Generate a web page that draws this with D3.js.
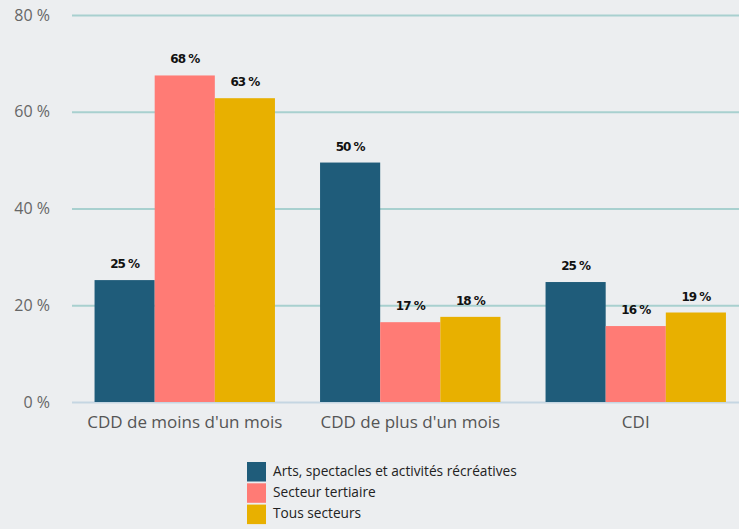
<!DOCTYPE html>
<html>
<head>
<meta charset="utf-8">
<script src="https://cdn.jsdelivr.net/npm/d3@7"></script>
<style>
  body { margin: 0; background: #eceef0; }
  svg { display: block; font-family: "Open Sans", sans-serif; }
</style>
</head>
<body>
<div id="chart"></div>
<script>
// Data
const categories = ["CDD de moins d'un mois", "CDD de plus d'un mois", "CDI"];
const seriesNames = ["Arts, spectacles et activités récréatives", "Secteur tertiaire", "Tous secteurs"];
const artsValues = [25.2, 49.5, 24.8];
const tertiaireValues = [67.5, 16.5, 15.7];
const tousValues = [62.8, 17.6, 18.5];
const yTicks = [0, 20, 40, 60, 80];

const colors = ["#1f5c7a", "#ff7b75", "#e8b000"];

const width = 739, height = 529;
const plot = { left: 72, right: 748.5, top: 15, bottom: 402 };

const svg = d3.select("#chart")
  .append("svg")
  .attr("width", width)
  .attr("height", height);

svg.append("rect")
  .attr("width", width)
  .attr("height", height)
  .attr("fill", "#eceef0");

// Scales
const x0 = d3.scaleBand()
  .domain(categories)
  .range([plot.left, plot.right])
  .paddingInner(0.2)
  .paddingOuter(0.1);

const x1 = d3.scaleBand()
  .domain(seriesNames)
  .range([0, x0.bandwidth()]);

const y = d3.scaleLinear()
  .domain([0, 80])
  .range([plot.bottom, plot.top]);

const color = d3.scaleOrdinal().domain(seriesNames).range(colors);

// Gridlines + y labels
const yAxis = d3.axisLeft(y)
  .tickValues(yTicks)
  .tickSize(-(width - plot.left))
  .tickPadding(22)
  .tickFormat(d => d + " %");

const gy = svg.append("g")
  .attr("transform", `translate(${plot.left},0)`)
  .call(yAxis);
gy.select(".domain").remove();
gy.selectAll(".tick line")
  .attr("stroke", d => d === 0 ? "#c5d6e2" : "#a8d0cf")
  .attr("stroke-width", 2);
gy.selectAll(".tick text")
  .attr("fill", "#666")
  .attr("font-size", 16)
  .attr("font-family", "Open Sans, sans-serif");

// Bars
const rows = categories.map((c, i) => ({
  category: c,
  values: [artsValues[i], tertiaireValues[i], tousValues[i]]
    .map((v, j) => ({ series: seriesNames[j], value: v }))
}));

const group = svg.selectAll(".group")
  .data(rows)
  .enter()
  .append("g")
  .attr("class", "group")
  .attr("transform", d => `translate(${x0(d.category)},0)`);

group.selectAll("rect")
  .data(d => d.values)
  .enter()
  .append("rect")
  .attr("x", d => x1(d.series))
  .attr("y", d => y(d.value))
  .attr("width", x1.bandwidth())
  .attr("height", d => y(0) - y(d.value))
  .attr("fill", d => color(d.series));

group.selectAll(".val")
  .data(d => d.values)
  .enter()
  .append("text")
  .attr("class", "val")
  .attr("x", d => x1(d.series) + x1.bandwidth() / 2)
  .attr("y", d => y(d.value) - 12)
  .attr("text-anchor", "middle")
  .attr("font-family", "DejaVu Sans, sans-serif")
  .attr("font-weight", "bold")
  .attr("font-size", 12)
  .attr("letter-spacing", -1)
  .attr("fill", "#111")
  .text(d => d3.format(".0f")(d.value) + " %");

// Category labels
const xAxis = d3.axisBottom(x0).tickSize(0).tickPadding(14);
const gx = svg.append("g")
  .attr("transform", `translate(0,${plot.bottom})`)
  .call(xAxis);
gx.select(".domain").remove();
gx.selectAll(".tick text")
  .attr("fill", "#555")
  .attr("font-size", 17)
  .attr("font-family", "Open Sans, sans-serif");

// Legend
const legend = svg.append("g")
  .attr("transform", "translate(247,462)");

seriesNames.forEach((name, i) => {
  legend.append("rect")
    .attr("x", 0)
    .attr("y", i * 21.3)
    .attr("width", 19)
    .attr("height", 19.5)
    .attr("fill", color(name));
  legend.append("text")
    .attr("x", 26)
    .attr("y", i * 21.3 + 10)
    .attr("dominant-baseline", "middle")
    .attr("font-size", 13.7)
    .attr("fill", "#222")
    .text(name);
});
</script>
</body>
</html>
